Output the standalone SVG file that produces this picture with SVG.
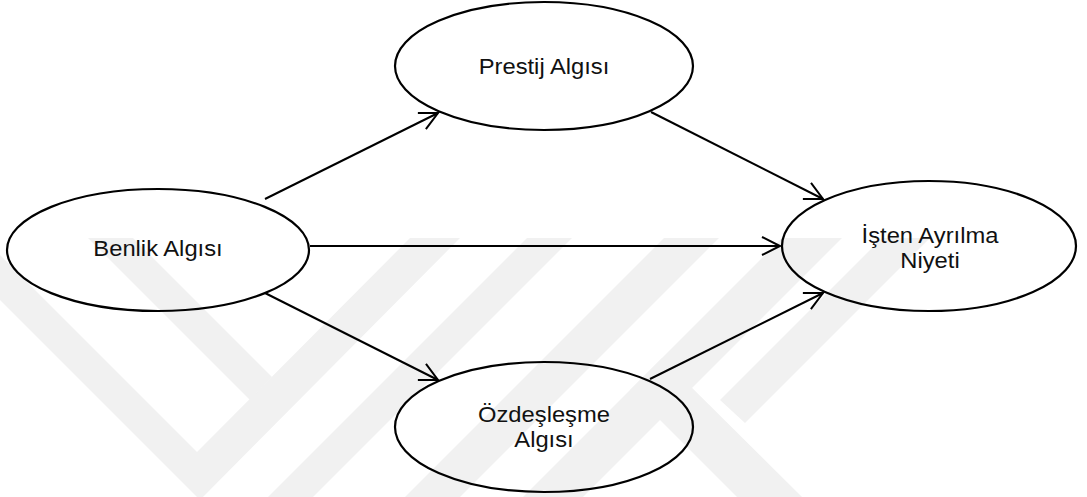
<svg xmlns="http://www.w3.org/2000/svg" width="1087" height="497" viewBox="0 0 1087 497">
  <style>
    .wm { fill: #f1f1f1; stroke: none; }
    .node { fill: none; stroke: #000; stroke-width: 2.2; }
    .edge { fill: none; stroke: #000; stroke-width: 2; marker-end: url(#arrow); }
    .label { font-family: "Liberation Sans", Arial, sans-serif; font-size: 22px; fill: #111; text-anchor: middle; }
  </style>
  <defs>
    <marker id="arrow" markerUnits="userSpaceOnUse" markerWidth="24" markerHeight="24" viewBox="-20 -12 24 24" refX="0" refY="0" orient="auto">
      <path d="M-18,-9 L0,0 L-18,9" fill="none" stroke="#000" stroke-width="2" stroke-linejoin="miter"/>
    </marker>
  </defs>

  <rect width="1087" height="497" fill="#fff"/>

  <!-- faint background emblem: diagonal bands -->
  <g id="background-emblem">
    <polygon class="wm" points="0,255 197,452 410,238 460,238 200,500 0,300"/>
    <polygon class="wm" points="88,238 133,238 272,377 250,400"/>
    <polygon class="wm" points="268,497 527,238 572,238 313,497"/>
    <polygon class="wm" points="405,497 664,238 719,238 460,497"/>
    <polygon class="wm" points="523,497 782,238 842,238 583,497"/>
    <polygon class="wm" points="630,390 662,358 802,497 737,497"/>
    <polygon class="wm" points="720,400 882,238 930,238 745,423"/>
  </g>

  <g id="connectors">
    <line class="edge" x1="265" y1="199" x2="438" y2="113"/>
    <line class="edge" x1="651" y1="112" x2="823" y2="199"/>
    <line class="edge" x1="310" y1="246" x2="780" y2="246"/>
    <line class="edge" x1="265" y1="293" x2="438" y2="380"/>
    <line class="edge" x1="650" y1="379" x2="823" y2="293"/>
  </g>

  <g id="node-prestij">
    <ellipse class="node" cx="544" cy="66" rx="149" ry="64"/>
    <text class="label" transform="translate(544,74) scale(1.08,1)">Prestij Algısı</text>
  </g>

  <g id="node-benlik">
    <ellipse class="node" cx="158" cy="250" rx="151" ry="61"/>
    <text class="label" transform="translate(158,256) scale(1.08,1)">Benlik Algısı</text>
  </g>

  <g id="node-isten">
    <ellipse class="node" cx="929" cy="246" rx="147" ry="65"/>
    <text class="label" transform="translate(930,243) scale(1.08,1)">İşten Ayrılma</text>
    <text class="label" transform="translate(930,268) scale(1.08,1)">Niyeti</text>
  </g>

  <g id="node-ozdeslesme">
    <ellipse class="node" cx="544" cy="427" rx="149" ry="65"/>
    <text class="label" transform="translate(544,422) scale(1.08,1)">Özdeşleşme</text>
    <text class="label" transform="translate(544,447) scale(1.08,1)">Algısı</text>
  </g>
</svg>
